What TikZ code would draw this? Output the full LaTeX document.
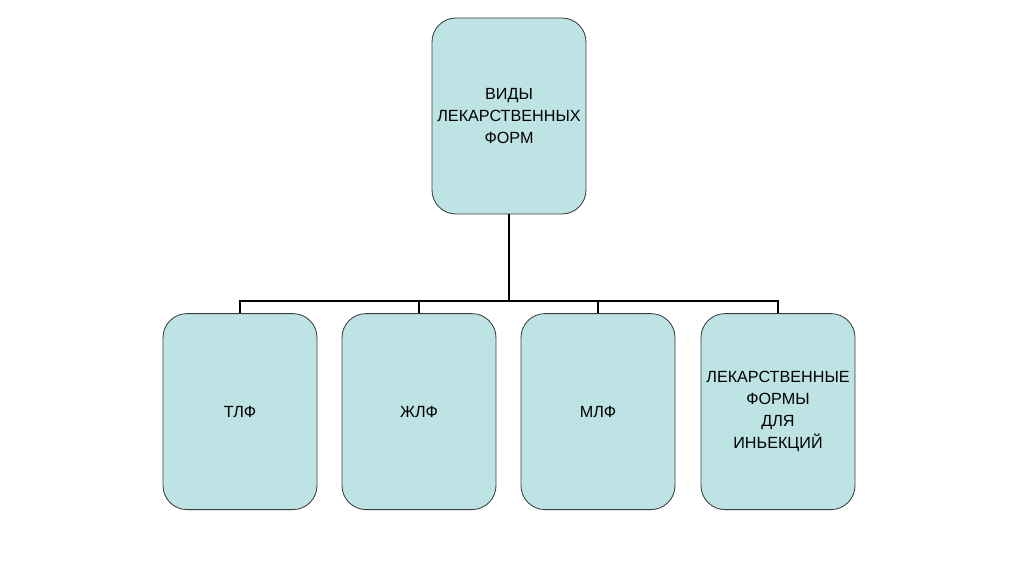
\documentclass[tikz,border=0pt]{standalone}
\usepackage{fontspec}
\setmainfont{Liberation Sans}
\usepackage{tikz}
\usetikzlibrary{positioning}
\usepackage{xcolor}
\definecolor{boxfill}{RGB}{189,227,228}
\definecolor{boxline}{RGB}{60,60,60}

\begin{document}
\begin{tikzpicture}[
    kind/.style={draw=boxline, line width=0.6pt, fill=boxfill, rounded corners=0.6cm,
                 minimum width=3.85cm, minimum height=4.9cm, align=center,
                 font=\fontsize{11.5}{15.6}\selectfont},
    link/.style={black, line width=1.4pt}
]
    \useasboundingbox (0,0) rectangle (25.6,-14.35);

    % верхний блок
    \node[kind] (vidy) at (12.725, -2.9) {ВИДЫ\\ЛЕКАРСТВЕННЫХ\\ФОРМ};

    % нижние блоки
    \node[kind] (tlf) at (6.0, -10.29) {ТЛФ};
    \node[kind] (zhlf) at (10.475, -10.29) {ЖЛФ};
    \node[kind] (mlf) at (14.95, -10.29) {МЛФ};
    \node[kind] (inj) at (19.45, -10.29) {ЛЕКАРСТВЕННЫЕ\\ФОРМЫ\\ДЛЯ\\ИНЬЕКЦИЙ};

    % соединения
    \coordinate (bus) at (12.725, -7.525);
    \draw[link] (vidy.south) -- (bus);
    \draw[link] (tlf.north) |- (bus);
    \draw[link] (zhlf.north) |- (bus);
    \draw[link] (mlf.north) |- (bus);
    \draw[link] (inj.north) |- (bus);
\end{tikzpicture}
\end{document}
